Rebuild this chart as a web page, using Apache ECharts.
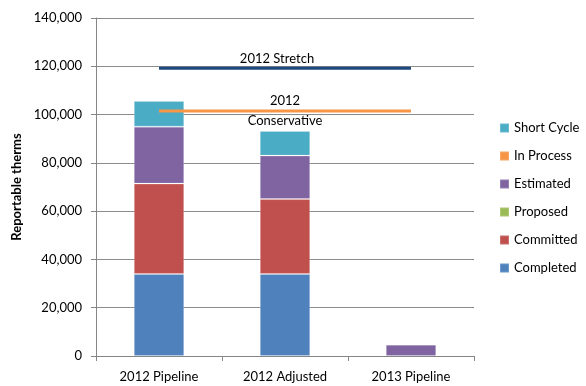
<!DOCTYPE html>
<html>
<head>
<meta charset="utf-8">
<script src="https://cdn.jsdelivr.net/npm/echarts@6/dist/echarts.min.js"></script>
<style>
  html, body { margin: 0; padding: 0; background: #fff; }
  #chart { width: 586px; height: 386px; }
</style>
</head>
<body>
<div id="chart"></div>
<script>
// Pipeline categories and stacked savings components (reportable therms)
const categories = ['2012 Pipeline', '2012 Adjusted', '2013 Pipeline'];
const completed  = [34000, 34000, null];
const committed  = [37400, 31000, null];
const proposed   = [null, null, null];
const estimated  = [23600, 18000, 4700];
const inProcess  = [null, null, null];
const shortCycle = [10600, 10200, null];

// Goal lines
const stretchGoal = 119200;
const conservativeGoal = 101500;

// Y axis ticks
const yMin = 0, yMax = 140000, yStep = 20000;

const FONT = 'Lato';
const chart = echarts.init(document.getElementById('chart'), null, { renderer: 'canvas' });

function barSeries(name, data, color) {
  return {
    name: name,
    type: 'bar',
    stack: 'total',
    data: data,
    barWidth: '40%',
    itemStyle: { color: color, borderColor: 'rgba(255,255,255,0.18)', borderWidth: 1 },
    emphasis: { disabled: true }
  };
}

function goalLine(name, value, color, labelText, labelOpts) {
  return {
    name: name,
    type: 'line',
    data: categories.map((c, i) => i === 1
      ? { value: value, label: Object.assign({ show: true, formatter: labelText, color: '#000', fontFamily: FONT, fontSize: 13 }, labelOpts) }
      : value),
    symbol: 'circle',
    symbolSize: 0,
    showSymbol: true,
    itemStyle: { color: color },
    lineStyle: { color: color, width: 3 },
    z: 5,
    emphasis: { disabled: true }
  };
}

chart.setOption({
  animation: false,
  textStyle: { fontFamily: FONT },
  grid: { left: 96, right: 112, top: 18, bottom: 30 },
  legend: {
    orient: 'vertical',
    left: 494,
    top: 116,
    itemWidth: 9,
    itemHeight: 9,
    itemGap: 14,
    icon: 'rect',
    data: ['Short Cycle', 'In Process', 'Estimated', 'Proposed', 'Committed', 'Completed'],
    textStyle: { fontFamily: FONT, fontSize: 13, color: '#000', lineHeight: 14 }
  },
  xAxis: {
    type: 'category',
    data: categories,
    boundaryGap: true,
    axisLine: { lineStyle: { color: '#868686', width: 1 } },
    axisTick: { show: true, length: 5, lineStyle: { color: '#868686' } },
    axisLabel: { color: '#000', fontFamily: FONT, fontSize: 13, margin: 14 }
  },
  yAxis: {
    type: 'value',
    min: yMin,
    max: yMax,
    interval: yStep,
    name: 'Reportable therms',
    nameLocation: 'middle',
    nameGap: 72,
    nameTextStyle: { color: '#000', fontFamily: FONT, fontSize: 13, fontWeight: 'bold' },
    axisLine: { show: true, lineStyle: { color: '#868686', width: 1 } },
    axisTick: { show: true, length: 5, lineStyle: { color: '#868686' } },
    axisLabel: {
      color: '#000', fontFamily: FONT, fontSize: 13, margin: 14,
      formatter: v => v.toLocaleString('en-US')
    },
    splitLine: { show: true, lineStyle: { color: '#8c8c8c', width: 1 } }
  },
  series: [
    barSeries('Completed', completed, '#4F81BD'),
    barSeries('Committed', committed, '#C0504D'),
    barSeries('Proposed', proposed, '#9BBB59'),
    barSeries('Estimated', estimated, '#8064A2'),
    barSeries('In Process', inProcess, '#F79646'),
    barSeries('Short Cycle', shortCycle, '#4BACC6'),
    goalLine('2012 Stretch', stretchGoal, '#1F497D', '2012 Stretch', { position: 'top', distance: 3, offset: [-8, 0] }),
    goalLine('2012 Conservative', conservativeGoal, '#F79646', '2012\nConservative', { position: 'inside', lineHeight: 20 })
  ]
});
</script>
</body>
</html>
